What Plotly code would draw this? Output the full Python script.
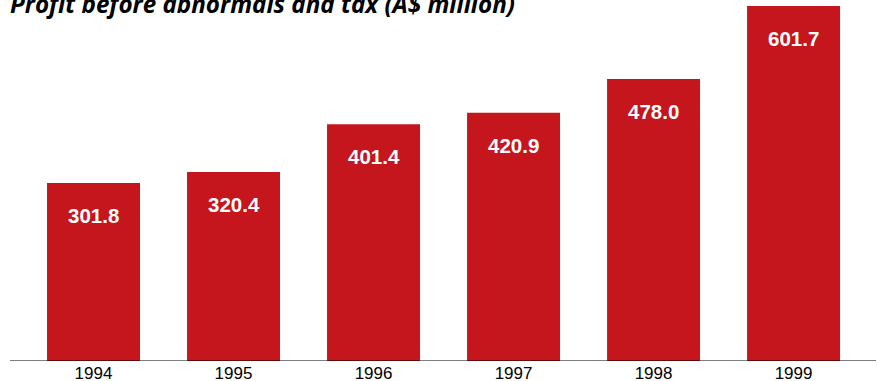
import plotly.graph_objects as go

years = ["1994", "1995", "1996", "1997", "1998", "1999"]
profit = [301.8, 320.4, 401.4, 420.9, 478.0, 601.7]
labels = ["301.8", "320.4", "401.4", "420.9", "478.0", "601.7"]
title = "Profit before abnormals and tax (A$ million)"

red = "#C5161D"

fig = go.Figure()
fig.add_trace(go.Bar(x=years, y=profit, marker=dict(color=red, line=dict(width=0)),
                     hoverinfo="skip"))

for i, (v, lab) in enumerate(zip(profit, labels)):
    fig.add_annotation(x=i, y=v, text=f"<b>{lab}</b>", showarrow=False,
                       yanchor="top", yshift=-19,
                       font=dict(family="Liberation Sans, Arial", size=20.5, color="white"))

fig.add_annotation(xref="paper", yref="paper", x=0, y=1, xanchor="left", yanchor="top",
                   xshift=8, yshift=15, showarrow=False,
                   text=f"<b><i>{title}</i></b>",
                   font=dict(family="Open Sans", size=24.2, color="black"))

fig.add_shape(type="line", xref="paper", yref="y", x0=10/877, x1=876/877, y0=0, y1=0,
              line=dict(color="black", width=1.2))

fig.update_layout(
    width=877, height=381,
    margin=dict(l=0, r=0, t=0, b=20, autoexpand=False),
    paper_bgcolor="white", plot_bgcolor="white",
    bargap=0.336, showlegend=False,
    xaxis=dict(type="category", range=[-0.668, 5.596], showgrid=False, zeroline=False,
               showline=False, ticks="", automargin=False,
               tickfont=dict(family="Liberation Sans, Arial", size=17, color="black")),
    yaxis=dict(range=[0, 611.9], visible=False, showgrid=False, zeroline=False, automargin=False),
)

fig.write_html("out.html")
